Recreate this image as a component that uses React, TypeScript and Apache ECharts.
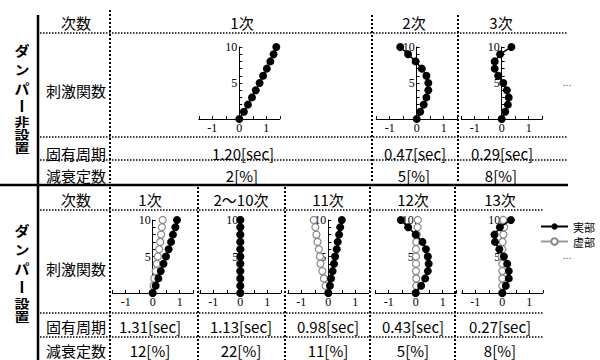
import React, { useEffect, useRef } from "react";
import * as echarts from "echarts";

// ---- data ----
const floors = [0, 1, 2, 3, 4, 5, 6, 7, 8, 9, 10];
const xTickLabels = ["-1", "0", "1"];
const yTickLabels = ["5", "10"];

// ダンパー非設置 (real part only)
const noDamperMode1 = [0, 0.17, 0.32, 0.47, 0.61, 0.75, 0.88, 1.02, 1.15, 1.27, 1.37];
const noDamperMode2 = [0, 0.13, 0.26, 0.36, 0.43, 0.43, 0.36, 0.19, -0.04, -0.32, -0.61];
const noDamperMode3 = [0, 0.13, 0.23, 0.26, 0.19, 0.06, -0.13, -0.26, -0.26, -0.06, 0.36];

// ダンパー設置 (real / imaginary)
const damperMode1Re = [0, 0.11, 0.21, 0.3, 0.4, 0.49, 0.59, 0.68, 0.75, 0.84, 0.9];
const damperMode1Im = [0, 0.03, 0.06, 0.11, 0.15, 0.19, 0.24, 0.28, 0.31, 0.34, 0.37];
const damperMode2to10Re = [0, 0, 0, 0, 0, 0, 0, 0, 0, 0, 0];
const damperMode2to10Im = [0, 0, 0, 0, 0, 0, 0, 0, 0, 0, 0];
const damperMode11Re = [0, 0.06, 0.1, 0.16, 0.21, 0.25, 0.31, 0.35, 0.4, 0.44, 0.5];
const damperMode11Im = [0, -0.1, -0.16, -0.22, -0.29, -0.31, -0.35, -0.4, -0.44, -0.48, -0.54];
const damperMode12Re = [0, 0.2, 0.35, 0.45, 0.48, 0.45, 0.38, 0.25, 0, -0.28, -0.55];
const damperMode12Im = [0, 0.02, 0.02, 0.01, 0.01, 0.01, 0.01, 0.02, 0.04, 0.07, 0.08];
const damperMode13Re = [0, 0.13, 0.24, 0.24, 0.18, 0.06, -0.11, -0.27, -0.29, -0.09, 0.32];
const damperMode13Im = [0, 0, 0, 0, 0, -0.02, 0, 0.01, 0.04, 0.07, 0.04];

const rowLabels = ["次数", "刺激関数", "固有周期", "減衰定数"];
const topModes = ["1次", "2次", "3次"];
const topPeriods = ["1.20[sec]", "0.47[sec]", "0.29[sec]"];
const topDamping = ["2[%]", "5[%]", "8[%]"];
const bottomModes = ["1次", "2～10次", "11次", "12次", "13次"];
const bottomPeriods = ["1.31[sec]", "1.13[sec]", "0.98[sec]", "0.43[sec]", "0.27[sec]"];
const bottomDamping = ["12[%]", "22[%]", "11[%]", "5[%]", "8[%]"];
const legendNames = ["実部", "虚部"];
const sectionTop = ["ダ", "ン", "パ", "ー", "非", "設", "置"];
const sectionBottom = ["ダ", "ン", "パ", "ー", "設", "置"];

// ---- layout ----
const UNIT = 27;
const panels = [
  { zero: 239.3, top: 47, h: 72, re: noDamperMode1, im: null as number[] | null },
  { zero: 416.7, top: 47, h: 72, re: noDamperMode2, im: null },
  { zero: 501.7, top: 47, h: 72, re: noDamperMode3, im: null },
  { zero: 152.7, top: 220, h: 73, re: damperMode1Re, im: damperMode1Im },
  { zero: 240.3, top: 220, h: 73, re: damperMode2to10Re, im: damperMode2to10Im },
  { zero: 328.3, top: 220, h: 73, re: damperMode11Re, im: damperMode11Im },
  { zero: 415.7, top: 220, h: 73, re: damperMode12Re, im: damperMode12Im },
  { zero: 502.3, top: 220, h: 73, re: damperMode13Re, im: damperMode13Im },
];
const topColX = [242, 414, 501];
const botColX = [150, 241, 328, 413, 500];

const JP = '"Noto Sans CJK JP", "Noto Sans", sans-serif';

function txt(x: number, y: number, s: string, size = 15, weight = "normal", fill = "#000", family = JP) {
  return {
    type: "text",
    x,
    y,
    silent: true,
    style: {
      text: s,
      font: `${weight} ${size}px ${family}`,
      fill,
      textAlign: "center",
      textVerticalAlign: "middle",
      align: "center",
      verticalAlign: "middle",
    },
  };
}
function dotted(x1: number, y1: number, x2: number, y2: number, w = 1.5) {
  return {
    type: "line",
    silent: true,
    shape: { x1, y1, x2, y2 },
    style: { stroke: "#000", lineWidth: w, lineDash: [w, w] },
  };
}
function solid(x1: number, y1: number, x2: number, y2: number, w = 2.5) {
  return {
    type: "line",
    silent: true,
    shape: { x1, y1, x2, y2 },
    style: { stroke: "#000", lineWidth: w },
  };
}
function vertical(x: number, ys: number[], chars: string[], kanjiFrom: number) {
  return chars.map((c, i) => {
    const t: any = txt(x, ys[i], c, 15, "bold");
    if (c === "ー") {
      t.rotation = -Math.PI / 2;
    } else if (i >= kanjiFrom) {
      t.scaleY = 0.8;
    } else {
      t.scaleY = 0.88;
    }
    return t;
  });
}

export default function App() {
  const ref = useRef<HTMLDivElement>(null);
  useEffect(() => {
    if (!ref.current) return;
    const chart = echarts.init(ref.current, undefined, { renderer: "svg" });

    const grid = panels.map((p) => ({
      left: p.zero - 1.5 * UNIT,
      top: p.top,
      width: 3 * UNIT,
      height: p.h,
    }));
    const axisFont = { fontFamily: '"Liberation Serif", serif', fontSize: 12, color: "#000" };
    const xAxis = panels.map((_, i) => ({
      type: "value",
      gridIndex: i,
      min: -1.5,
      max: 1.5,
      interval: 0.5,
      axisLine: { onZero: false, lineStyle: { color: "#000", width: 1 } },
      axisTick: { show: true, inside: true, length: 3, lineStyle: { color: "#000" } },
      splitLine: { show: false },
      axisLabel: {
        ...axisFont,
        margin: 3,
        formatter: (v: number) => (xTickLabels.includes(String(v)) ? String(v) : ""),
      },
    }));
    const yAxis = panels.map((_, i) => ({
      type: "value",
      gridIndex: i,
      min: 0,
      max: 10,
      interval: 1,
      position: "left",
      offset: -1.5 * UNIT,
      axisLine: { onZero: false, lineStyle: { color: "#000", width: 1 } },
      axisTick: { show: true, inside: true, length: 3, lineStyle: { color: "#000" } },
      splitLine: { show: false },
      axisLabel: {
        ...axisFont,
        margin: 2,
        formatter: (v: number) => (yTickLabels.includes(String(v)) ? String(v) : ""),
      },
    }));

    const series: any[] = [];
    panels.forEach((p, i) => {
      if (p.im) {
        series.push({
          type: "line",
          name: legendNames[1],
          xAxisIndex: i,
          yAxisIndex: i,
          data: p.im.map((v, k) => [v, floors[k]]),
          symbol: "circle",
          symbolSize: 7,
          showSymbol: true,
          itemStyle: { color: "#fff", borderColor: "#888", borderWidth: 1.2 },
          lineStyle: { color: "#999", width: 1 },
          z: 2,
        });
      }
    });
    panels.forEach((p, i) => {
      series.push({
        type: "line",
        name: legendNames[0],
        xAxisIndex: i,
        yAxisIndex: i,
        data: p.re.map((v, k) => [v, floors[k]]),
        symbol: "circle",
        symbolSize: 8,
        showSymbol: true,
        itemStyle: { color: "#000" },
        lineStyle: { color: "#000", width: 1.5 },
        z: 3,
      });
    });

    const g: any[] = [];
    // thick separators
    g.push(solid(38, 15, 38, 360, 2.5));
    g.push(solid(0, 185, 568, 185, 2.5));
    // top section dotted lines
    g.push(dotted(40, 33, 567, 33));
    g.push(dotted(40, 137, 567, 137));
    g.push(dotted(40, 160, 567, 160));
    g.push(dotted(110, 10, 110, 183, 2));
    g.push(dotted(372, 15, 372, 183, 2));
    g.push(dotted(458, 15, 458, 183, 2));
    // bottom section dotted lines
    g.push(dotted(40, 210, 543, 210));
    g.push(dotted(40, 313, 543, 313));
    g.push(dotted(40, 337, 543, 337));
    [110, 198, 285, 370, 455].forEach((x) => g.push(dotted(x, 187, x, 360, 2)));

    // row labels
    const topRowY = [22, 90, 153, 175];
    const botRowY = [199, 268, 326, 350];
    rowLabels.forEach((s, i) => {
      g.push(txt(76, topRowY[i], s));
      g.push(txt(76, botRowY[i], s));
    });
    topModes.forEach((s, i) => g.push(txt(topColX[i], 22, s)));
    topPeriods.forEach((s, i) => g.push(txt(topColX[i] + 1, 153, s)));
    topDamping.forEach((s, i) => g.push(txt(topColX[i], 175, s)));
    bottomModes.forEach((s, i) => g.push(txt(botColX[i], 199, s)));
    bottomPeriods.forEach((s, i) => g.push(txt(botColX[i], 326, s)));
    bottomDamping.forEach((s, i) => g.push(txt(botColX[i], 350, s)));

    // vertical section titles
    g.push(...vertical(22, [50, 69.5, 88.5, 106, 122, 135, 148], sectionTop, 4));
    g.push(...vertical(22, [230, 249.5, 268.5, 287, 304, 317], sectionBottom, 4));

    // ellipses
    g.push(txt(567, 82, "...", 10, "normal", "#444", "sans-serif"));
    g.push(txt(567, 255, "...", 10, "normal", "#444", "sans-serif"));

    chart.setOption({
      animation: false,
      backgroundColor: "#fff",
      grid,
      xAxis,
      yAxis,
      series,
      legend: {
        data: legendNames,
        orient: "vertical",
        left: 540,
        top: 220,
        itemWidth: 27,
        itemHeight: 8,
        itemGap: 2,
        padding: 0,
        textStyle: { fontFamily: JP, fontSize: 11, lineHeight: 13, color: "#000", padding: [0, 0, 0, 0] },
      },
      graphic: { elements: g },
    });
    return () => chart.dispose();
  }, []);
  return (
    <div
      ref={ref}
      style={{ position: "absolute", left: 0, top: 0, width: 600, height: 360 }}
    />
  );
}
